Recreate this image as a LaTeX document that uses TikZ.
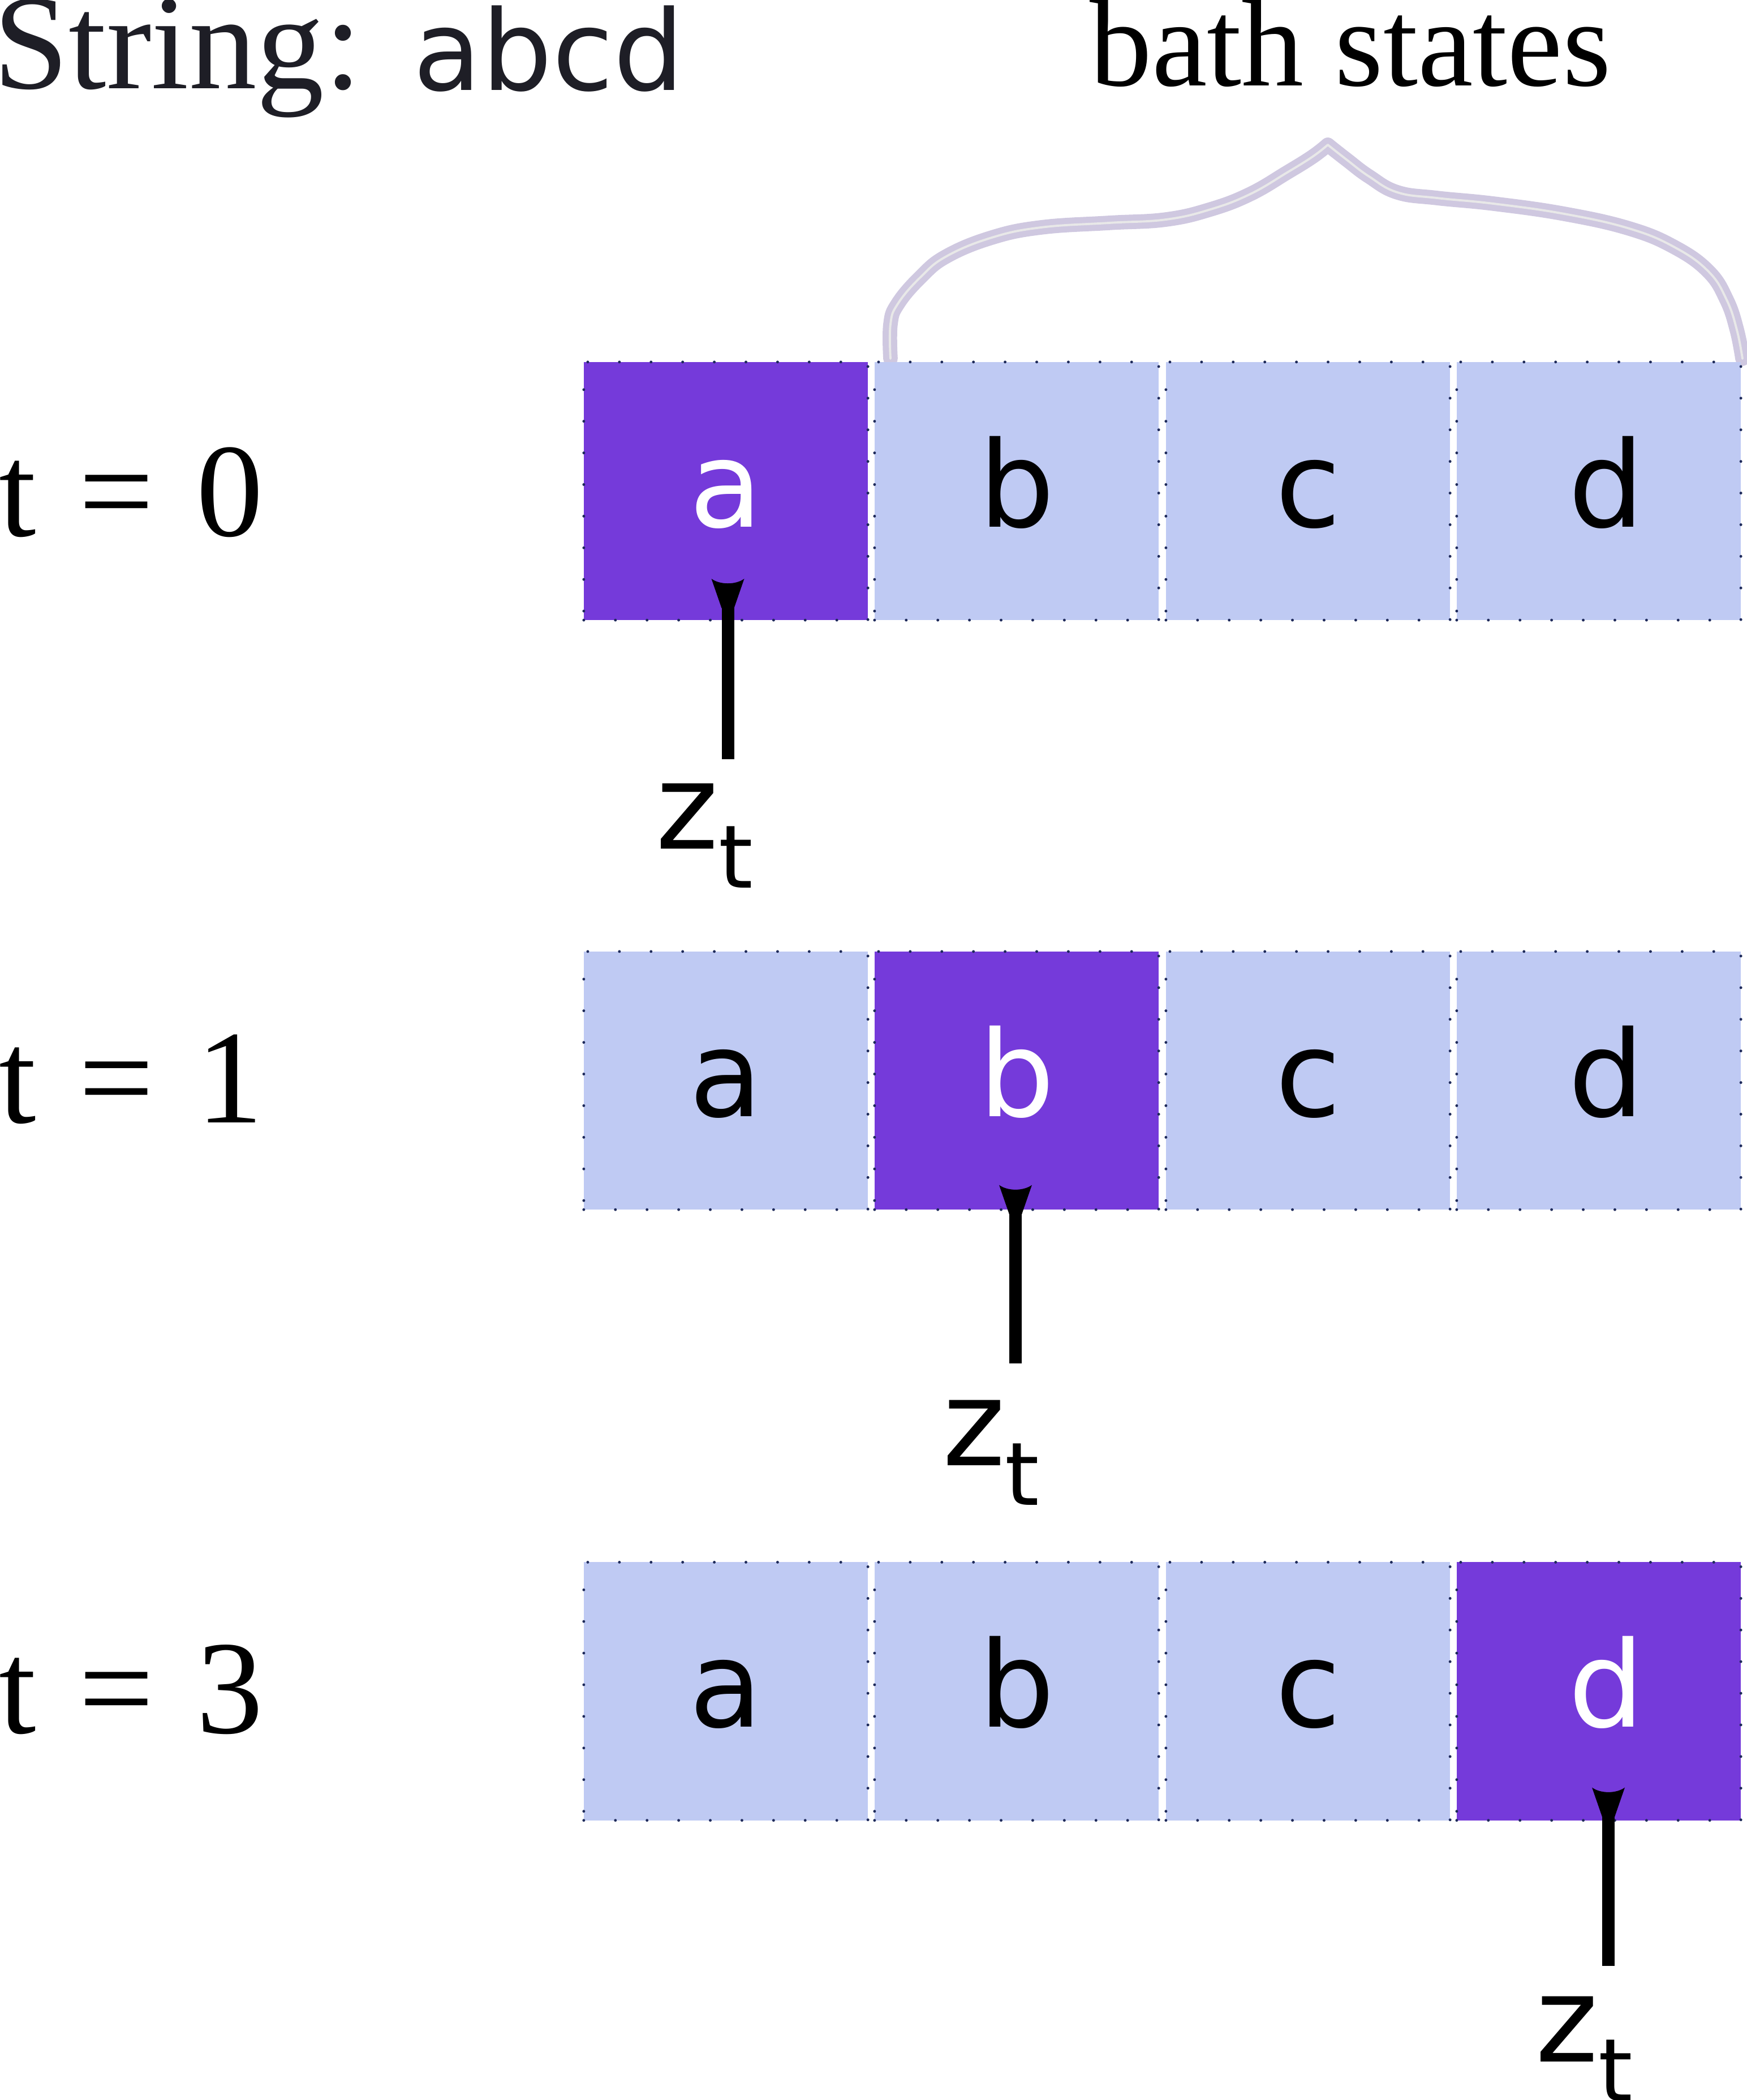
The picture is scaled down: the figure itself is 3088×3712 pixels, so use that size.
\documentclass[tikz,border=0pt]{standalone}
\usepackage{fontspec}
\setmainfont{Liberation Serif}
\newfontfamily\dvsans{DejaVu Sans}
\definecolor{purp}{RGB}{117,58,218}
\definecolor{lightc}{RGB}{191,202,243}
\definecolor{dotc}{RGB}{30,42,90}
\definecolor{braceo}{RGB}{207,200,224}
\definecolor{bracei}{RGB}{232,232,232}
\definecolor{titlec}{RGB}{30,30,38}
\begin{document}
\begin{tikzpicture}[x=0.01cm,y=-0.01cm,
  cell/.style={minimum width=5.02cm, minimum height=4.56cm, inner sep=0pt,
    text height=35.85pt, text depth=0pt, draw=dotc, line width=1.4pt,
    dash pattern=on 0pt off 15.9pt, line cap=round,
    font=\dvsans\fontsize{60}{60}\selectfont, anchor=center},
  bathcell/.style={cell, fill=lightc, text=black},
  hotcell/.style={cell, fill=purp, text=white},
  ptr/.style={line width=6.26pt, shorten <=9pt},
  tiphead/.style={fill=black},
  zlab/.style={anchor=base west, inner sep=0pt, font=\dvsans\fontsize{60}{60}\selectfont},
  tlab/.style={anchor=base west, inner sep=0pt, font=\fontsize{67}{67}\selectfont},
  bracestroke/.style={line width=7.3pt, line cap=round, line join=round, draw=braceo},
  braceinner/.style={line width=1.1pt, line cap=round, line join=round, draw=bracei}
]
\useasboundingbox (0,0) rectangle (3088,3712);

% title
\node[anchor=base west, inner sep=0pt, text=titlec, font=\fontsize{68}{68}\selectfont] (title) at (-12,157) {String:};
\node[anchor=base west, inner sep=0pt, text=titlec, font=\dvsans\fontsize{56}{56}\selectfont] (str) at (730,160) {abcd};
\node[anchor=base, inner sep=0pt, font=\fontsize{62.5}{62.5}\selectfont] (bath) at (2387,152) {bath states};

% brace
\foreach \sty in {bracestroke,braceinner}{
\draw[\sty] plot[smooth, tension=0.7] coordinates {(1574,634) (1574,573) (1587,537) (1627,490) (1673,453) (1753,420) (1840,402) (1960,394) (2061,388) (2140,370) (2210,343) (2275,305) (2320,277) (2347,256)};
\draw[\sty] plot[smooth, tension=0.7] coordinates {(2347,256) (2380,282) (2420,312) (2470,340) (2540,350) (2640,360) (2765,378) (2880,404) (2960,437) (3020,480) (3052,530) (3070,583) (3080,634)};
}

% time labels
\node[tlab] (t0) at (-2,947) {t\hspace{0.32em}=\hspace{0.32em}0};
\node[tlab] (t1) at (-2,1984) {t\hspace{0.32em}=\hspace{0.32em}1};
\node[tlab] (t3) at (-2,3063) {t\hspace{0.32em}=\hspace{0.32em}3};

% row 1
\node[hotcell]  (r1a) at (1283,868) {a};
\node[bathcell] (r1b) at (1797,868) {b};
\node[bathcell] (r1c) at (2312,868) {c};
\node[bathcell] (r1d) at (2826,868) {\hspace*{7.4pt}d};
% row 2
\node[bathcell] (r2a) at (1283,1910) {a};
\node[hotcell]  (r2b) at (1797,1910) {b};
\node[bathcell] (r2c) at (2312,1910) {c};
\node[bathcell] (r2d) at (2826,1910) {\hspace*{7.4pt}d};
% row 3
\node[bathcell] (r3a) at (1283,2989.5) {a};
\node[bathcell] (r3b) at (1797,2989.5) {b};
\node[bathcell] (r3c) at (2312,2989.5) {c};
\node[hotcell]  (r3d) at (2826,2989.5) {\hspace*{7.4pt}d};

% pointers
\coordinate (p1) at (1286.5,1023);
\coordinate (q1) at (1286.5,1342);
\coordinate (p2) at (1795,2094.6);
\coordinate (q2) at (1795,2410);
\coordinate (p3) at (2843,3159.6);
\coordinate (q3) at (2843,3474.7);
\draw[ptr] (p1) -- (q1);
\draw[ptr] (p2) -- (q2);
\draw[ptr] (p3) -- (q3);
\foreach \p in {p1,p2,p3}{
  \fill[tiphead, shift={(\p)}] (-29,0) .. controls (-14,11) and (14,11) .. (29,0)
     -- (11,52) -- (-11,52) -- cycle;
}

\node[zlab] (z1) at (1159,1500) {z\raisebox{-19.9pt}{\fontsize{44}{44}\selectfont t}};
\node[zlab] (z2) at (1665.5,2590.5) {z\raisebox{-19.9pt}{\fontsize{44}{44}\selectfont t}};
\node[zlab] (z3) at (2714,3644) {z\raisebox{-19.9pt}{\fontsize{44}{44}\selectfont t}};
\end{tikzpicture}
\end{document}
